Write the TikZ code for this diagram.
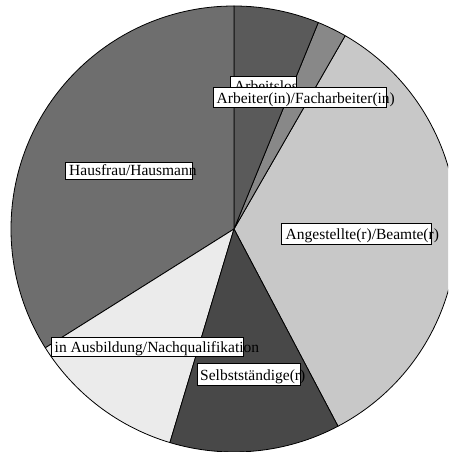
\documentclass[tikz,border=0pt]{standalone}
\usepackage{fontspec}
\setmainfont{Liberation Serif}
\definecolor{cAng}{RGB}{200,200,200}
\definecolor{cArb}{RGB}{136,136,136}
\definecolor{cLos}{RGB}{90,90,90}
\definecolor{cHaus}{RGB}{110,110,110}
\definecolor{cAus}{RGB}{235,235,235}
\definecolor{cSel}{RGB}{72,72,72}
\begin{document}
\begin{tikzpicture}[x=1pt,y=1pt,
  slice/.style={draw=black,line width=0.8pt,line join=round},
  lbox/.style={draw=black,fill=white,line width=0.8pt,inner sep=0pt,anchor=north west},
  ltext/.style={anchor=base west,inner sep=0pt,font=\fontsize{15.5}{18}\selectfont}]
\useasboundingbox (0,0) rectangle (448,452);
\clip (0,0) rectangle (448,452);
\coordinate (c) at (234,223);
\def\R{223}
\foreach \a/\b/\col in {-62.2/60.1/cAng, 60.1/67.8/cArb, 67.8/90/cLos, 90/212.2/cHaus, 212.2/253.3/cAus, 253.3/297.8/cSel}
  \filldraw[slice,fill=\col] (c) -- ++(\a:\R) arc[start angle=\a,end angle=\b,radius=\R] -- cycle;
% Hausfrau/Hausmann
\node[lbox,minimum width=126.7,minimum height=17.5] (bHaus) at (65,{452-162}) {};
\node[ltext] (tHaus) at (69,{452-176}) {Hausfrau/Hausmann};
% Angestellte
\node[lbox,minimum width=149.7,minimum height=21] (bAng) at (281,{452-222.7}) {};
\node[ltext] (tAng) at (285.5,{452-240}) {Angestellte(r)/Beamte(r)};
% Arbeitslos
\node[lbox,minimum width=66,minimum height=20] (bLos) at (230,{452-76}) {};
\node[ltext] (tLos) at (234,{452-91.5}) {Arbeitslos};
% Arbeiter
\node[lbox,minimum width=173.3,minimum height=20.8] (bArb) at (212.7,{452-86.7}) {};
\node[ltext] (tArb) at (216.5,{452-103.5}) {Arbeiter(in)/Facharbeiter(in)};
% Ausbildung
\node[lbox,minimum width=192.3,minimum height=19.5] (bAus) at (51,{452-337}) {};
\node[ltext] (tAus) at (54.5,{452-352.5}) {in Ausbildung/Nachqualifikation};
% Selbststaendige
\node[lbox,minimum width=103.3,minimum height=21.5] (bSel) at (196.7,{452-363.5}) {};
\node[ltext] (tSel) at (200,{452-381}) {Selbstständige(r)};
\end{tikzpicture}
\end{document}
